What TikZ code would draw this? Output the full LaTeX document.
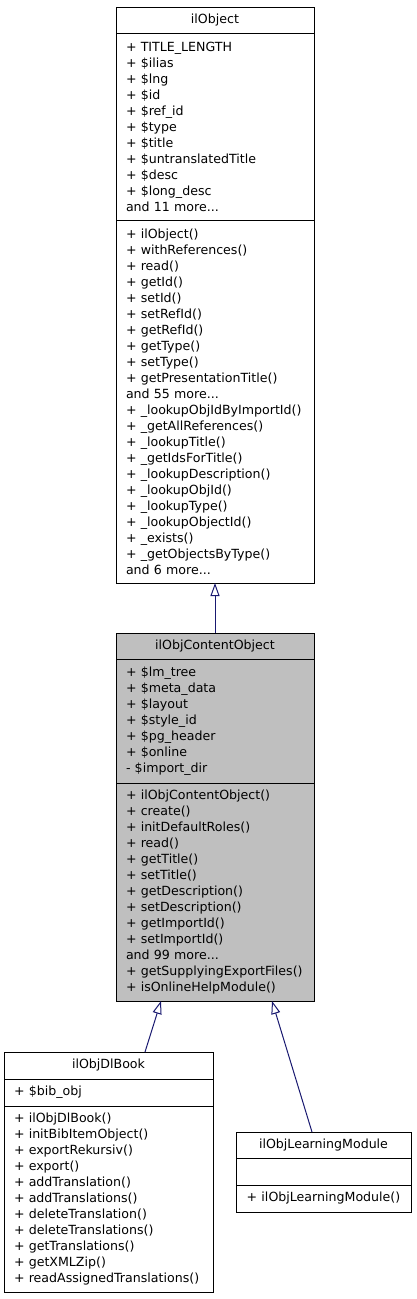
\documentclass[tikz,border=0pt]{standalone}
\usepackage{fontspec}
\setmainfont{DejaVu Sans}
\usetikzlibrary{arrows.meta,positioning}

\definecolor{edgeblue}{HTML}{191970}
\definecolor{focusgray}{HTML}{BFBFBF}

\tikzset{
  classpart/.style={draw=black, line width=1pt, anchor=north west, outer sep=0pt,
    inner xsep=10pt, inner ysep=0pt, align=left,
    font=\fontsize{12.6}{16}\selectfont},
  classtitle/.style={classpart, align=center},
  inherit/.style={draw=edgeblue, line width=1pt,
    -{Triangle[open, length=13pt, width=9pt]}}
}

\begin{document}
\begin{tikzpicture}[x=1pt, y=-1pt]
\useasboundingbox (0,0) rectangle (416,1299);
% base class
\node[classtitle, text width=178pt, minimum height=26pt] (objT) at (116,7) {ilObject};
\node[classpart, text width=178pt, minimum height=187pt] (objA) at (objT.south west)
  {+ TITLE\_LENGTH\\+ \$ilias\\+ \$lng\\+ \$id\\+ \$ref\_id\\+ \$type\\+ \$title\\
   + \$untranslatedTitle\\+ \$desc\\+ \$long\_desc\\and 11 more...};
\node[classpart, text width=178pt, minimum height=363pt] (objM) at (objA.south west)
  {+ ilObject()\\+ withReferences()\\+ read()\\+ getId()\\+ setId()\\+ setRefId()\\
   + getRefId()\\+ getType()\\+ setType()\\+ getPresentationTitle()\\and 55 more...\\
   + \_lookupObjIdByImportId()\\+ \_getAllReferences()\\+ \_lookupTitle()\\
   + \_getIdsForTitle()\\+ \_lookupDescription()\\+ \_lookupObjId()\\+ \_lookupType()\\
   + \_lookupObjectId()\\+ \_exists()\\+ \_getObjectsByType()\\and 6 more...};
% focus class
\node[classtitle, fill=focusgray, text width=178pt, minimum height=26pt] (cocT) at (116,633) {ilObjContentObject};
\node[classpart, fill=focusgray, text width=178pt, minimum height=124pt] (cocA) at (cocT.south west)
  {+ \$lm\_tree\\+ \$meta\_data\\+ \$layout\\+ \$style\_id\\+ \$pg\_header\\+ \$online\\- \$import\_dir};
\node[classpart, fill=focusgray, text width=178pt, minimum height=218pt] (cocM) at (cocA.south west)
  {+ ilObjContentObject()\\+ create()\\+ initDefaultRoles()\\+ read()\\+ getTitle()\\
   + setTitle()\\+ getDescription()\\+ setDescription()\\+ getImportId()\\+ setImportId()\\
   and 99 more...\\+ getSupplyingExportFiles()\\+ isOnlineHelpModule()};
% derived classes
\node[classtitle, text width=189pt, minimum height=27pt] (dlT) at (4,1052) {ilObjDlBook};
\node[classpart, text width=189pt, minimum height=27pt] (dlA) at (dlT.south west) {+ \$bib\_obj};
\node[classpart, text width=189pt, minimum height=186pt] (dlM) at (dlA.south west)
  {+ ilObjDlBook()\\+ initBibItemObject()\\+ exportRekursiv()\\+ export()\\+ addTranslation()\\
   + addTranslations()\\+ deleteTranslation()\\+ deleteTranslations()\\+ getTranslations()\\
   + getXMLZip()\\+ readAssignedTranslations()};
\node[classtitle, text width=155pt, minimum height=26pt] (lmT) at (236,1132) {ilObjLearningModule};
\node[classpart, text width=155pt, minimum height=27pt] (lmA) at (lmT.south west) {};
\node[classtitle, text width=155pt, minimum height=27pt] (lmM) at (lmA.south west) {+ ilObjLearningModule()};
% inheritance
\draw[inherit] (cocT.north) -- (objM.south);
\draw[inherit] ([xshift=141pt]dlT.north west) -- ([xshift=45pt]cocM.south west);
\draw[inherit] ([xshift=76pt]lmT.north west) -- ([xshift=156pt]cocM.south west);
\end{tikzpicture}
\end{document}
